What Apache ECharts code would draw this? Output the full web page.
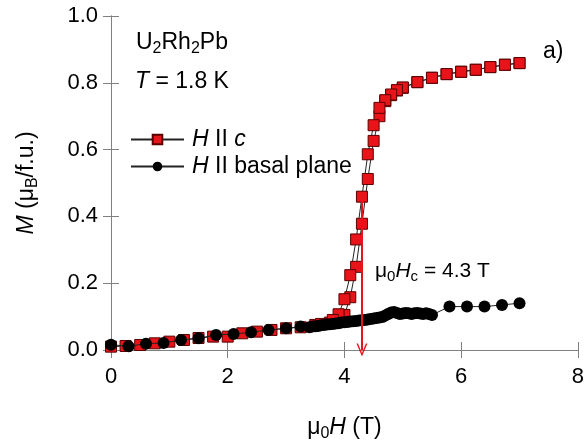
<!DOCTYPE html>
<html>
<head>
<meta charset="utf-8">
<script src="https://cdn.jsdelivr.net/npm/echarts@6/dist/echarts.min.js"></script>
<style>
html,body{margin:0;padding:0;background:#fff;}
#main{width:587px;height:447px;}
</style>
</head>
<body>
<div id="main"></div>
<script>
// H || c, field-up sweep
var cUpH = [0, 0.25, 0.5, 0.75, 1.0, 1.25, 1.5, 1.75, 2.0, 2.25, 2.5, 2.75, 3.0, 3.25, 3.5, 3.75, 3.9, 4.0, 4.1, 4.2, 4.3, 4.4, 4.5, 4.6, 4.7, 4.8, 4.9, 5.0, 5.25, 5.5, 5.75, 6.0, 6.25, 6.5, 6.75, 7.0];
var cUpM = [0.010, 0.012, 0.015, 0.020, 0.025, 0.030, 0.036, 0.040, 0.040, 0.050, 0.055, 0.060, 0.065, 0.068, 0.075, 0.082, 0.088, 0.105, 0.158, 0.249, 0.378, 0.512, 0.626, 0.700, 0.745, 0.763, 0.777, 0.785, 0.802, 0.815, 0.826, 0.833, 0.839, 0.847, 0.854, 0.859];
// H || c, field-down sweep
var cDownH = [7.0, 6.75, 6.5, 6.25, 6.0, 5.75, 5.5, 5.25, 5.0, 4.9, 4.8, 4.7, 4.6, 4.5, 4.4, 4.3, 4.2, 4.1, 4.0, 3.9, 3.8, 3.6];
var cDownM = [0.859, 0.854, 0.847, 0.839, 0.833, 0.826, 0.815, 0.802, 0.786, 0.778, 0.765, 0.748, 0.725, 0.673, 0.586, 0.459, 0.331, 0.224, 0.152, 0.107, 0.090, 0.078];
// H || basal plane
var bH = [0, 0.3, 0.6, 0.9, 1.2, 1.5, 1.8, 2.1, 2.4, 2.7, 3.0, 3.25, 3.40, 3.45, 3.50, 3.55, 3.60, 3.65, 3.70, 3.75, 3.80, 3.85, 3.90, 3.95, 4.00, 4.05, 4.10, 4.15, 4.20, 4.25, 4.30, 4.35, 4.40, 4.45, 4.50, 4.55, 4.60, 4.65, 4.70, 4.75, 4.80, 4.85, 4.90, 4.95, 5.00, 5.05, 5.10, 5.15, 5.20, 5.25, 5.30, 5.35, 5.40, 5.45, 5.50, 5.8, 6.1, 6.4, 6.7, 7.0];
var bM = [0.016, 0.011, 0.019, 0.021, 0.030, 0.035, 0.045, 0.048, 0.053, 0.060, 0.065, 0.070, 0.068, 0.070, 0.071, 0.072, 0.074, 0.075, 0.076, 0.077, 0.078, 0.079, 0.080, 0.082, 0.083, 0.084, 0.085, 0.086, 0.087, 0.088, 0.089, 0.090, 0.091, 0.093, 0.094, 0.096, 0.097, 0.099, 0.103, 0.108, 0.112, 0.114, 0.111, 0.108, 0.109, 0.111, 0.110, 0.108, 0.110, 0.111, 0.109, 0.108, 0.110, 0.108, 0.105, 0.130, 0.130, 0.130, 0.135, 0.140];
var xTicks = [0, 2, 4, 6, 8];
var yTicks = [0.0, 0.2, 0.4, 0.6, 0.8, 1.0];
var hcValue = 4.3;
var hcTopM = 0.465;

var cData = [];
for (var i = 0; i < cUpH.length; i++) cData.push([cUpH[i], cUpM[i]]);
for (var j = 0; j < cDownH.length; j++) cData.push([cDownH[j], cDownM[j]]);
var bData = bH.map(function (h, k) { return [h, bM[k]]; });

var FONT = 'Liberation Sans, Arial, sans-serif';
var axisGray = '#808080';
var redC = '#e8141a';

var chart = echarts.init(document.getElementById('main'), null, {renderer: 'canvas'});
var commonX = {
  type: 'value', min: xTicks[0], max: xTicks[xTicks.length - 1], interval: 2,
  axisLine: {show: true, lineStyle: {color: axisGray, width: 1}},
  axisTick: {show: true, inside: true, length: 8, lineStyle: {color: axisGray}},
  splitLine: {show: false}
};
var commonY = {
  type: 'value', min: yTicks[0], max: yTicks[yTicks.length - 1], interval: 0.2,
  axisLine: {show: true, lineStyle: {color: axisGray, width: 1}},
  axisTick: {show: true, inside: true, length: 8, lineStyle: {color: axisGray}},
  splitLine: {show: false}
};
var option = {
  animation: false,
  backgroundColor: '#fff',
  grid: {left: 111, right: 9, top: 16, bottom: 95, show: false},
  xAxis: [
    Object.assign({}, commonX, {
      position: 'bottom',
      axisLabel: {show: true, color: '#000', fontSize: 22, fontFamily: FONT, margin: 16},
      name: '{n|μ}{sub|0}{i|H}{n| (T)}',
      nameLocation: 'middle', nameGap: 64,
      nameTextStyle: {
        color: '#000', fontFamily: FONT,
        rich: {
          n: {fontSize: 23, fontFamily: FONT, color: '#000'},
          i: {fontSize: 23, fontFamily: FONT, fontStyle: 'italic', color: '#000'},
          sub: {fontSize: 16, fontFamily: FONT, color: '#000', padding: [12, 0, 0, 0]}
        }
      }
    }),
    Object.assign({}, commonX, {position: 'top', axisLabel: {show: false}})
  ],
  yAxis: [
    Object.assign({}, commonY, {
      position: 'left',
      axisLabel: {show: true, color: '#000', fontSize: 22, fontFamily: FONT, margin: 13,
        formatter: function (v) { return v.toFixed(1); }},
      name: '{i|M}{n| (μ}{sub|B}{n|/f.u.)}',
      nameLocation: 'middle', nameGap: 70, nameRotate: 90,
      nameTextStyle: {
        color: '#000', fontFamily: FONT,
        rich: {
          n: {fontSize: 23, fontFamily: FONT, color: '#000'},
          i: {fontSize: 23, fontFamily: FONT, fontStyle: 'italic', color: '#000'},
          sub: {fontSize: 16, fontFamily: FONT, color: '#000', padding: [12, 0, 0, 0]}
        }
      }
    }),
    Object.assign({}, commonY, {position: 'right', axisLabel: {show: false}})
  ],
  legend: {
    orient: 'vertical', left: 125, top: 123, itemGap: 4,
    itemWidth: 53, itemHeight: 12,
    data: ['c', 'basal'],
    formatter: function (name) {
      return name === 'c' ? '{i|H}{n| II }{i|c}' : '{i|H}{n| II basal plane}';
    },
    textStyle: {
      padding: [0, 0, 0, 3],
      rich: {
        n: {fontSize: 23, fontFamily: FONT, color: '#000'},
        i: {fontSize: 23, fontFamily: FONT, fontStyle: 'italic', color: '#000'}
      }
    }
  },
  graphic: [
    {type: 'text', left: 136, top: 31, style: {
      text: '{n|U}{sub|2}{n|Rh}{sub|2}{n|Pb}',
      rich: {
        n: {fontSize: 23, fontFamily: FONT, fill: '#000'},
        sub: {fontSize: 16, fontFamily: FONT, fill: '#000', padding: [12, 0, 0, 0]}
      }}},
    {type: 'text', left: 135, top: 70, style: {
      text: '{i|T}{n| = 1.8 K}',
      rich: {
        n: {fontSize: 23, fontFamily: FONT, fill: '#000'},
        i: {fontSize: 23, fontFamily: FONT, fontStyle: 'italic', fill: '#000'}
      }}},
    {type: 'text', left: 543, top: 40, style: {
      text: 'a)', fontSize: 23, fontFamily: FONT, fill: '#000'}},
    {type: 'text', left: 375, top: 261, style: {
      text: '{n|μ}{sub|0}{i|H}{sub|c}{n| = 4.3 T}',
      rich: {
        n: {fontSize: 21, fontFamily: FONT, fill: '#000'},
        i: {fontSize: 21, fontFamily: FONT, fontStyle: 'italic', fill: '#000'},
        sub: {fontSize: 15, fontFamily: FONT, fill: '#000', padding: [11, 0, 0, 0]}
      }}}
  ],
  series: [
    {
      name: 'c', type: 'line', data: cData,
      xAxisIndex: 0, yAxisIndex: 0,
      symbol: 'rect', symbolSize: 11,
      lineStyle: {color: '#222', width: 1},
      itemStyle: {color: redC, borderColor: '#5a0000', borderWidth: 1},
      z: 3,
      markLine: {
        silent: true, animation: false,
        symbol: ['none', 'path://M5,0 L10,12 L8.6,12 L5,3.2 L1.4,12 L0,12 Z'],
        symbolSize: [11, 13],
        label: {show: false},
        lineStyle: {color: redC, width: 2, type: 'solid'},
        data: [[{coord: [hcValue, hcTopM]}, {coord: [hcValue, 0]}]]
      }
    },
    {
      name: 'basal', type: 'line', data: bData,
      xAxisIndex: 0, yAxisIndex: 0,
      symbol: 'circle', symbolSize: 12,
      lineStyle: {color: '#222', width: 1},
      itemStyle: {color: '#000'},
      z: 4
    }
  ]
};
chart.setOption(option);
</script>
</body>
</html>
